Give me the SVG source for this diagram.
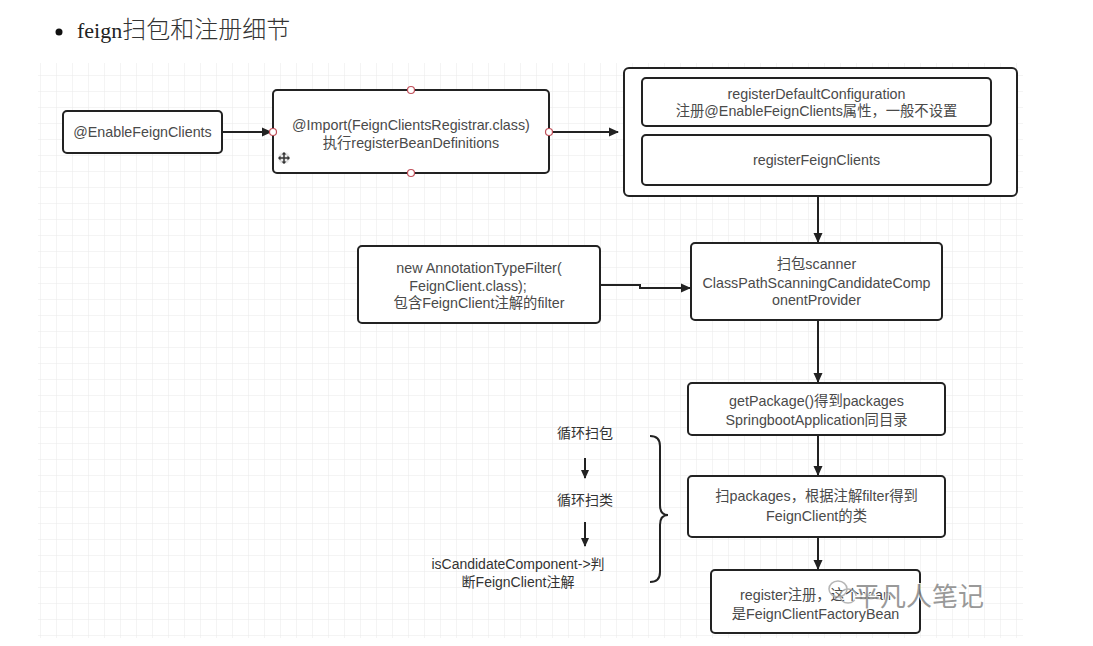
<svg xmlns="http://www.w3.org/2000/svg" width="1093" height="646" viewBox="0 0 1093 646">
<defs>
<pattern id="grid" x="40" y="11" width="16" height="16" patternUnits="userSpaceOnUse">
<path d="M0,0 H16 M0,0 V16" fill="none" stroke="#e9e9e9" stroke-width="1"/>
</pattern>
<marker id="arr" viewBox="0 0 10 10" refX="9" refY="5" markerWidth="10" markerHeight="10" markerUnits="userSpaceOnUse" orient="auto">
<path d="M0,0.5 L10,5 L0,9.5 Z" fill="#222"/>
</marker>
<marker id="arrs" viewBox="0 0 10 10" refX="9" refY="5" markerWidth="9" markerHeight="9" markerUnits="userSpaceOnUse" orient="auto">
<path d="M0,0.5 L10,5 L0,9.5 Z" fill="#222"/>
</marker>
</defs>
<style>
.box{fill:#fff;stroke:#222;stroke-width:2}
.t{font-family:"Liberation Sans","Noto Sans CJK SC",sans-serif;font-size:14.3px;fill:#4a4a4a;text-anchor:middle}
.l{font-family:"Liberation Sans","Noto Sans CJK SC",sans-serif;font-size:14px;fill:#333;text-anchor:middle}
.c{fill:none;stroke:#222;stroke-width:2}
.port{fill:#fff;stroke:#c0505a;stroke-width:1.2}
</style>
<rect width="1093" height="646" fill="#fff"/>
<rect x="38" y="63" width="985" height="575" fill="url(#grid)"/>
<g id="title">
<circle cx="59" cy="32" r="3.5" fill="#111"/>
<text x="77" y="38" font-family="Liberation Serif,'Noto Sans CJK SC',serif" font-size="22" fill="#222">feign<tspan font-family="'Noto Sans CJK SC',sans-serif" font-weight="300" fill="#333" font-size="24">扫包和注册细节</tspan></text>
</g>
<g id="connectors">
<line class="c" x1="222" y1="132" x2="271" y2="132" marker-end="url(#arr)"/>
<line class="c" x1="550" y1="132" x2="618" y2="132" marker-end="url(#arr)"/>
<line class="c" x1="818" y1="185" x2="818" y2="242" marker-end="url(#arr)"/>
<polyline class="c" points="600,285 640,285 640,288 690,288" marker-end="url(#arr)"/>
<line class="c" x1="818" y1="320" x2="818" y2="382" marker-end="url(#arr)"/>
<line class="c" x1="818" y1="435" x2="818" y2="475" marker-end="url(#arr)"/>
<line class="c" x1="818" y1="537" x2="818" y2="569" marker-end="url(#arr)"/>
<line class="c" x1="585" y1="458" x2="585" y2="478" marker-end="url(#arrs)"/>
<line class="c" x1="585" y1="522" x2="585" y2="546" marker-end="url(#arrs)"/>
<path class="c" d="M650,436 Q660,436 660,446 L660,505 Q660,515 668,515 Q660,515 660,525 L660,572 Q660,582 650,582"/>
</g>
<g id="enable">
<rect class="box" x="63" y="111" width="159" height="42" rx="4"/>
<text class="t" x="142.5" y="137">@EnableFeignClients</text>
</g>
<g id="import">
<rect class="box" x="273" y="90" width="276" height="83" rx="4"/>
<text class="t" x="411" y="130">@Import(FeignClientsRegistrar.class)</text>
<text class="t" x="411" y="148">执行registerBeanDefinitions</text>
<circle class="port" cx="411" cy="90" r="3.5"/>
<circle class="port" cx="411" cy="173" r="3.5"/>
<circle class="port" cx="273" cy="132" r="3.5"/>
<circle class="port" cx="549" cy="132" r="3.5"/>
<g transform="translate(284,158)">
<circle r="6" fill="#ddd" opacity="0.6"/>
<path d="M-5,0 H5 M0,-5 V5" stroke="#333" stroke-width="1.5"/>
<path d="M-6,0 L-3.5,-2.5 L-3.5,2.5 Z M6,0 L3.5,-2.5 L3.5,2.5 Z M0,-6 L-2.5,-3.5 L2.5,-3.5 Z M0,6 L-2.5,3.5 L2.5,3.5 Z" fill="#333"/>
</g>
</g>
<g id="registrar">
<rect class="box" x="624" y="68" width="393" height="128" rx="5"/>
<rect class="box" x="642" y="78" width="349" height="48" rx="4"/>
<text class="t" x="816.5" y="99">registerDefaultConfiguration</text>
<text class="t" x="816.5" y="116">注册@EnableFeignClients属性，一般不设置</text>
<rect class="box" x="642" y="135" width="349" height="50" rx="4"/>
<text class="t" x="816.5" y="165">registerFeignClients</text>
</g>
<g id="filter">
<rect class="box" x="358" y="246" width="242" height="77" rx="4"/>
<text class="t" x="479" y="273">new AnnotationTypeFilter(</text>
<text class="t" x="468" y="291">FeignClient.class);</text>
<text class="t" x="479" y="308">包含FeignClient注解的filter</text>
</g>
<g id="scanner">
<rect class="box" x="691" y="243" width="251" height="77" rx="4"/>
<text class="t" x="816.5" y="269">扫包scanner</text>
<text class="t" x="816.5" y="288">ClassPathScanningCandidateComp</text>
<text class="t" x="816.5" y="305">onentProvider</text>
</g>
<g id="getpackage">
<rect class="box" x="688" y="383" width="257" height="52" rx="4"/>
<text class="t" x="816.5" y="406">getPackage()得到packages</text>
<text class="t" x="816.5" y="425">SpringbootApplication同目录</text>
</g>
<g id="scanpackages">
<rect class="box" x="688" y="476" width="257" height="61" rx="4"/>
<text class="t" x="816.5" y="501">扫packages，根据注解filter得到</text>
<text class="t" x="816.5" y="521">FeignClient的类</text>
</g>
<g id="register">
<rect class="box" x="711" y="570" width="209" height="63" rx="4"/>
<text class="t" x="815.5" y="600">register注册，这个bean</text>
<text class="t" x="815.5" y="619">是FeignClientFactoryBean</text>
</g>
<g id="loop">
<text class="l" x="585" y="438">循环扫包</text>
<text class="l" x="585" y="505">循环扫类</text>
<text class="l" x="518" y="569">isCandidateComponent-&gt;判</text>
<text class="l" x="518" y="587">断FeignClient注解</text>
</g>
<g id="watermark" opacity="0.85">
<g fill="none" stroke="#aaa" stroke-width="1.5">
<ellipse cx="838" cy="589" rx="9" ry="8"/>
<ellipse cx="848" cy="596" rx="8" ry="7"/>
</g>
<text x="854" y="606" font-family="'Noto Sans CJK SC',sans-serif" font-size="26" fill="#888" stroke="#fff" stroke-width="2" paint-order="stroke">平凡人笔记</text>
</g>
</svg>
